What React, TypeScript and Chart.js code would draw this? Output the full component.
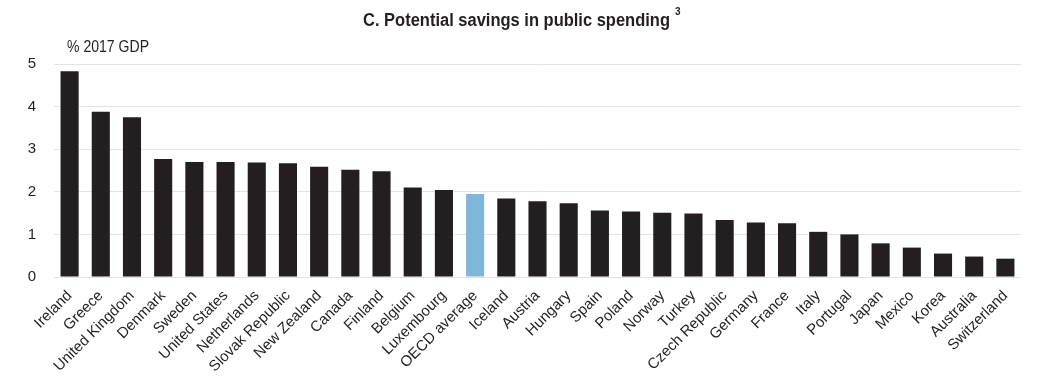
import React, { useEffect, useRef } from "react";
import { Chart, registerables } from "chart.js";

Chart.register(...registerables);

const categories = [
  "Ireland", "Greece", "United Kingdom", "Denmark", "Sweden", "United States",
  "Netherlands", "Slovak Republic", "New Zealand", "Canada", "Finland", "Belgium",
  "Luxembourg", "OECD average", "Iceland", "Austria", "Hungary", "Spain", "Poland",
  "Norway", "Turkey", "Czech Republic", "Germany", "France", "Italy", "Portugal",
  "Japan", "Mexico", "Korea", "Australia", "Switzerland",
];

const savings = [
  4.83, 3.88, 3.75, 2.77, 2.7, 2.7, 2.69, 2.67, 2.59, 2.52, 2.48, 2.1, 2.04, 1.95,
  1.84, 1.78, 1.73, 1.56, 1.54, 1.51, 1.49, 1.34, 1.28, 1.26, 1.06, 1.0, 0.79,
  0.69, 0.55, 0.48, 0.43,
];

const yTicks = [0, 1, 2, 3, 4, 5];

const titleText = "C. Potential savings in public spending";
const titleSup = "3";
const unitText = "% 2017 GDP";

const NARROW = '"Liberation Sans Narrow", "Arial Narrow", "Liberation Sans", Arial, sans-serif';
const REGULAR = '"Liberation Sans", Arial, Helvetica, sans-serif';

function drawFitted(ctx: any, text: string, x: number, y: number, targetW: number) {
  const w = ctx.measureText(text).width;
  const s = Math.min(1, targetW / w);
  ctx.save();
  ctx.translate(x, y);
  ctx.scale(s, 1);
  ctx.fillText(text, 0, 0);
  ctx.restore();
  return w * s;
}

const textPlugin = {
  id: "textPlugin",
  afterDraw(chart: any) {
    const ctx = chart.ctx;
    ctx.save();
    ctx.fillStyle = "#231f20";
    ctx.textBaseline = "alphabetic";
    ctx.textAlign = "left";
    ctx.font = `bold 17.5px ${NARROW}`;
    const tw = drawFitted(ctx, titleText, 363, 26, 307);
    ctx.font = `bold 10px ${NARROW}`;
    ctx.fillText(titleSup, 363 + tw + 5, 15);
    ctx.font = `16px ${NARROW}`;
    drawFitted(ctx, unitText, 67, 52, 82);
    ctx.restore();
  },
};

export default function App() {
  const ref = useRef<HTMLCanvasElement>(null);

  useEffect(() => {
    if (!ref.current) return;
    const colors = categories.map((c) => (c === "OECD average" ? "#7fb6da" : "#231f20"));
    const chart = new Chart(ref.current, {
      type: "bar",
      data: {
        labels: categories,
        datasets: [
          {
            data: savings,
            backgroundColor: colors,
            categoryPercentage: 1,
            barPercentage: 0.58,
          },
        ],
      },
      options: {
        responsive: false,
        animation: false,
        layout: { padding: { top: 64, right: 35, left: 0, bottom: 0 } },
        plugins: {
          legend: { display: false },
          tooltip: { enabled: false },
          title: { display: false },
        },
        scales: {
          x: {
            grid: { display: false, drawTicks: false },
            border: { display: false },
            ticks: {
              autoSkip: false,
              maxRotation: 45,
              minRotation: 45,
              padding: 10,
              color: "#231f20",
              font: { family: REGULAR, size: 15 },
            },
            afterFit(scale: any) {
              scale.height = 113;
            },
          },
          y: {
            min: 0,
            max: 5,
            afterBuildTicks(scale: any) {
              scale.ticks = yTicks.map((v) => ({ value: v }));
            },
            grid: { color: "#e3e3e3", lineWidth: 1, drawTicks: false },
            border: { display: false },
            ticks: {
              padding: 18,
              color: "#231f20",
              font: { family: NARROW, size: 15 },
            },
            afterFit(scale: any) {
              scale.width = 54;
            },
          },
        },
      },
      plugins: [textPlugin],
    });
    return () => chart.destroy();
  }, []);

  return (
    <div style={{ position: "fixed", left: 0, top: 0, width: 1056, height: 390, background: "#fff" }}>
      <canvas ref={ref} width={1056} height={390} style={{ width: 1056, height: 390 }} />
    </div>
  );
}
